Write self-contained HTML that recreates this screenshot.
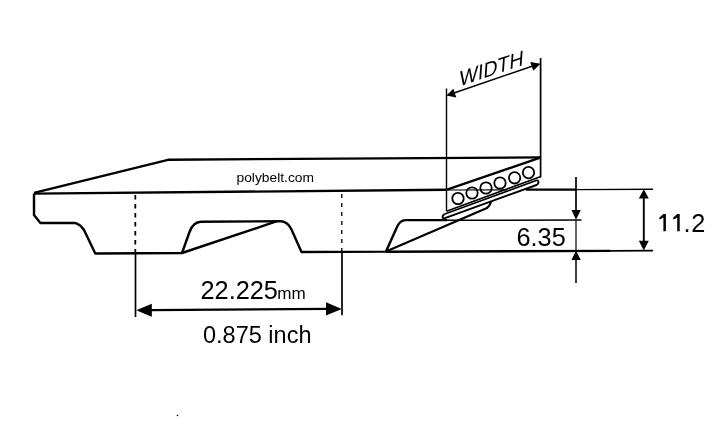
<!DOCTYPE html>
<html><head><meta charset="utf-8">
<style>
html,body{margin:0;padding:0;background:#fff;width:725px;height:432px;overflow:hidden}
svg{display:block;will-change:transform}
text{font-family:"Liberation Sans",sans-serif;fill:#000}
</style></head><body>
<svg width="725" height="432" viewBox="0 0 725 432">
<g fill="none" stroke="#000" stroke-width="2.4" stroke-linejoin="round" stroke-linecap="butt">
  <!-- belt back top -->
  <path d="M34 192.8 L169 159.7 L541 157.4"/>
  <!-- back bottom edge -->
  <path d="M34 193.6 L447 189.8"/>
  <!-- profile -->
  <path d="M34 193.6 L34 215 L40.4 223 L75 223 Q80 224 84 230 L95.3 253.5 L182 253 L189.5 232 Q193 222 201 221.8 L281.5 221.2 Q288 222 291.5 229.5 L301.5 252 L386 251.6 L397 227 Q400 220.2 405.5 220.1 L447 220.1"/>
  <path d="M386 251.8 L610 250.9"/>
  <path d="M526 189.6 L576 189.6" stroke-width="2.2"/>
  <!-- tooth diagonals -->
  <path d="M182 253 L277 221.2"/>
  <path d="M386 251.6 L487 208 Q489.8 206 491 202" stroke-width="2.2"/>
  <!-- cross-section -->
  <path d="M447 189.6 L541 157.4"/>
  <path d="M446.5 211.3 L539.5 177 L541 176.8" stroke-width="1.7"/>
  <path d="M444.2 214.2 L537.5 180" stroke-width="1.7"/>
  <path d="M444.2 214.2 Q441.3 217 443.5 218.6 L536.5 185 Q539.8 183.2 537.5 180" stroke-width="1.9"/>
</g>
<g fill="none" stroke="#000" stroke-width="1.4">
  <path d="M446.5 88.5 L446.5 211"/>
  <path d="M540.6 58 L540.6 177" stroke-width="1.7"/>
  <path d="M447 190 L507 189.8" stroke-width="1.2"/>
  <path d="M447 220.3 L581.5 220" stroke-width="1.5"/>
  <path d="M576 189.6 L653 189.2"/>
  <path d="M610 250.9 L653 250.6" stroke-width="1.8"/>
  <path d="M576 177 L576 212" stroke-width="1.7"/>
  <path d="M576 219.8 L576 250.2" stroke-width="1.2"/>
  <path d="M576 258 L576 283" stroke-width="1.5"/>
  <path d="M643.8 197 L643.8 242" stroke-width="1.9"/>
  <!-- width dim -->
  <path d="M454 93 L532 66.3" stroke-width="1.5"/>
</g>
<!-- dashed verticals -->
<g stroke="#000" fill="none">
  <path d="M135.3 195 L135.3 253" stroke-width="1.8" stroke-dasharray="4.5 4.5"/>
  <path d="M135.5 253 L135.5 317" stroke-width="1.7"/>
  <path d="M341.8 194 L341.8 252" stroke-width="1.3" stroke-dasharray="4 5"/>
  <path d="M342 252 L342 315.2" stroke-width="1.7"/>
  <path d="M150 310.2 L328 308.9" stroke-width="2.2"/>
</g>
<!-- circles -->
<g fill="none" stroke="#000" stroke-width="1.8">
  <circle cx="458" cy="198.5" r="5.7"/>
  <circle cx="472" cy="193" r="5.7"/>
  <circle cx="486" cy="188" r="5.7"/>
  <circle cx="500" cy="183" r="5.7"/>
  <circle cx="514.6" cy="177.8" r="5.7"/>
  <circle cx="528.5" cy="172.6" r="5.7"/>
</g>
<!-- arrowheads -->
<g fill="#000" stroke="none">
  <path d="M136.2 310.3 L151.8 303.8 L151.8 316.8 Z"/>
  <path d="M341.8 308.9 L326 302.2 L326 315.6 Z"/>
  <path d="M576 219.8 L571.5 210 L580.8 210 Z"/>
  <path d="M576 250.6 L571.5 260 L580.8 260 Z"/>
  <path d="M643.8 189.2 L638.8 198.5 L648.8 198.5 Z"/>
  <path d="M643.8 250.6 L638.8 240.8 L648.8 240.8 Z"/>
  <path d="M446.3 95.6 L453.4 88.8 L456.3 97.6 Z"/>
  <path d="M540.5 63.7 L530.2 62 L533.3 70.8 Z"/>
  <circle cx="177.5" cy="415.5" r="0.8"/>
</g>
<text x="236.5" y="181.8" font-size="13.3" textLength="77.5" lengthAdjust="spacingAndGlyphs">polybelt.com</text>
<text x="200.5" y="299.1" font-size="25.3">22.225</text><text x="277.3" y="299.1" font-size="15.8" textLength="28.5" lengthAdjust="spacingAndGlyphs">mm</text>
<text x="203" y="343.3" font-size="23.5">0.875 inch</text>
<text x="516.5" y="245.7" font-size="25.3">6.35</text>
<path d="M663.4 213.9 L665.9 213.9 L665.9 231.2 L663.4 231.2 L663.4 217.4 L660 219.6 L659 218 Z M677.2 213.9 L679.7 213.9 L679.7 231.2 L677.2 231.2 L677.2 217.4 L673.8 219.6 L672.8 218 Z" fill="#000"/>
<text x="683.5" y="231.5" font-size="25.3" letter-spacing="0.6">.2</text>
<text x="0" y="0" font-size="21.8" transform="matrix(0.9 -0.3 -0.07 1 459 86.5)">WIDTH</text>
</svg>
</body></html>
